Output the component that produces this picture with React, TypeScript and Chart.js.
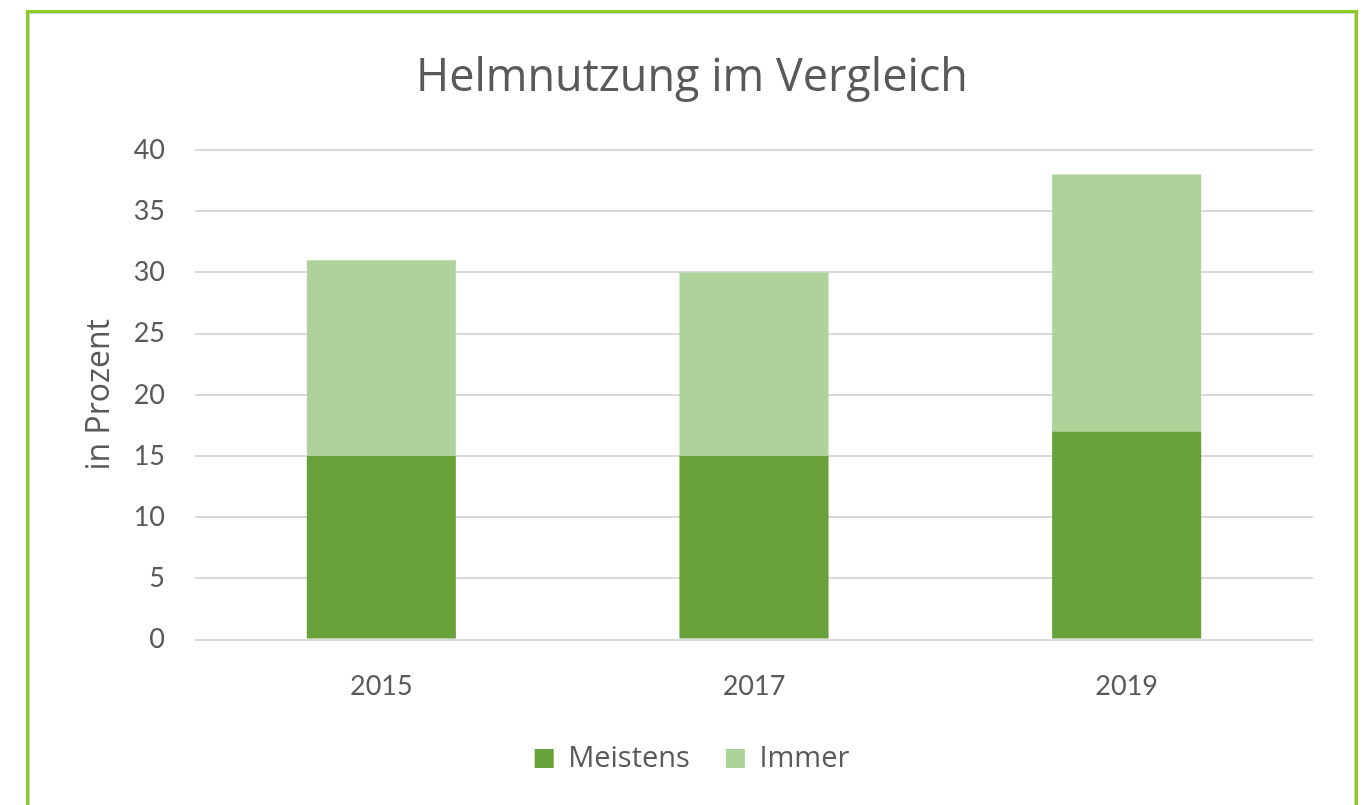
import React, { useEffect, useRef } from "react";
import { Chart, registerables } from "chart.js";

Chart.register(...registerables);

const categories = ["2015", "2017", "2019"];
const meistens = [15, 15, 17];
const immer = [16, 15, 21];
const seriesNames = ["Meistens", "Immer"];
const titleText = "Helmnutzung im Vergleich";
const yAxisTitle = "in Prozent";

const FONT = "'Open Sans', Lato, sans-serif";
const NUMFONT = "Lato, 'Open Sans', sans-serif";
const TEXT = "#595959";

// moves the legend block up a little (Excel-style compact legend)
const legendShift = {
  id: "legendShift",
  afterLayout(chart: any) {
    const l = chart.legend;
    if (l) {
      l.top -= 24;
      l.bottom -= 24;
      if (typeof l.adjustHitBoxes === "function") l.adjustHitBoxes();
    }
  },
};

export default function App() {
  const ref = useRef<HTMLCanvasElement>(null);
  useEffect(() => {
    const ctx = ref.current!;
    const chart = new Chart(ctx, {
      type: "bar",
      data: {
        labels: categories,
        datasets: [
          { label: seriesNames[0], data: meistens, backgroundColor: "#68A03A", barPercentage: 0.8, categoryPercentage: 0.5 },
          { label: seriesNames[1], data: immer, backgroundColor: "#ADD39B", barPercentage: 0.8, categoryPercentage: 0.5 },
        ],
      },
      plugins: [legendShift],
      options: {
        responsive: false,
        animation: false,
        layout: { padding: { left: 71, right: 55, top: 30, bottom: -2 } },
        plugins: {
          title: {
            display: true,
            text: titleText,
            color: TEXT,
            font: { family: FONT, size: 45, weight: "normal" },
            padding: { top: 21, bottom: 45 },
          },
          legend: {
            position: "bottom",
            labels: {
              color: TEXT,
              font: { family: FONT, size: 29 },
              boxWidth: 19,
              boxHeight: 19,
              padding: 36,
            },
          },
          tooltip: { enabled: false },
        },
        scales: {
          x: {
            stacked: true,
            grid: { display: false, drawTicks: false },
            border: { display: false },
            ticks: { color: TEXT, font: { family: NUMFONT, size: 27 }, padding: 30 },
          },
          y: {
            stacked: true,
            min: 0,
            max: 40,
            ticks: { stepSize: 5, color: TEXT, font: { family: NUMFONT, size: 27 }, padding: 30 },
            grid: { color: "#D9D9D9", lineWidth: 2, drawTicks: false },
            border: { display: false },
            title: {
              display: true,
              text: yAxisTitle,
              color: TEXT,
              font: { family: FONT, size: 32 },
              padding: { top: 10, bottom: 0 },
            },
            afterFit: (scale: any) => {
              scale.width = 124;
            },
          },
        },
      },
    });
    return () => chart.destroy();
  }, []);
  return (
    <div style={{ position: "fixed", left: 0, top: 0, width: 1368, height: 805, background: "#fff", overflow: "hidden" }}>
      <canvas ref={ref} width={1368} height={805} style={{ position: "absolute", left: 0, top: 0 }} />
      <div
        style={{
          position: "absolute",
          left: 26,
          top: 10,
          width: 1326,
          height: 830,
          border: "3px solid #8CCB1F",
          boxShadow: "inset 1px 1px 0 #D0D0D0, inset -1px 0 0 #D0D0D0",
          pointerEvents: "none",
        }}
      />
    </div>
  );
}
